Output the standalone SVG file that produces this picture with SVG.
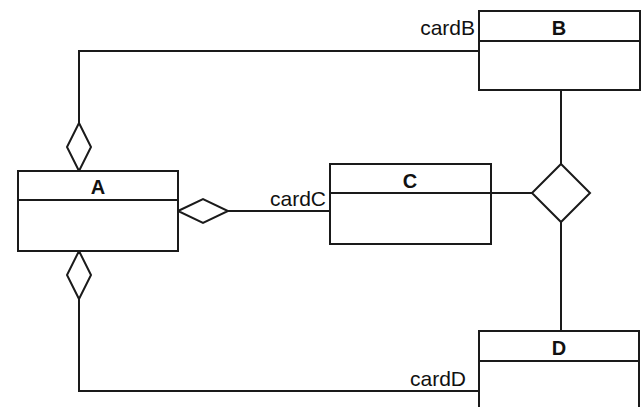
<svg xmlns="http://www.w3.org/2000/svg" width="642" height="407" viewBox="0 0 642 407">
  <style>
    .box { fill: #ffffff; stroke: #1a1a1a; stroke-width: 2; }
    .sep { stroke: #1a1a1a; stroke-width: 2; }
    .edge { fill: none; stroke: #1a1a1a; stroke-width: 2; }
    .dia { fill: #ffffff; stroke: #1a1a1a; stroke-width: 2; stroke-linejoin: miter; }
    .title { font-family: "Liberation Sans", Arial, sans-serif; font-size: 20px; font-weight: bold; text-anchor: middle; fill: #111; }
    .card { font-family: "Liberation Sans", Arial, sans-serif; font-size: 21px; text-anchor: end; fill: #111; }
  </style>
  <rect width="642" height="407" fill="#ffffff"/>

  <g id="connectors">
    <!-- A to B -->
    <polyline class="edge" points="79,123 79,51 479,51"/>
    <!-- A to C -->
    <line class="edge" x1="228" y1="211" x2="330" y2="211"/>
    <!-- A to D -->
    <polyline class="edge" points="79,299 79,391 479,391"/>
    <!-- ternary association: B, C, D -->
    <line class="edge" x1="561" y1="90" x2="561" y2="164"/>
    <line class="edge" x1="491" y1="193" x2="532" y2="193"/>
    <line class="edge" x1="561" y1="222" x2="561" y2="331"/>
    <!-- aggregation diamonds -->
    <polygon class="dia" points="79,123 91,147 79,171 67,147"/>
    <polygon class="dia" points="178,211 203,199 228,211 203,223"/>
    <polygon class="dia" points="79,251 91,275 79,299 67,275"/>
    <polygon class="dia" points="561,164 590,193 561,222 532,193"/>
    <!-- role labels -->
    <text class="card" x="475" y="35">cardB</text>
    <text class="card" x="326" y="206">cardC</text>
    <text class="card" x="466" y="386">cardD</text>
  </g>

  <g id="A">
    <rect class="box" x="18" y="171" width="160" height="80"/>
    <line class="sep" x1="18" y1="200" x2="178" y2="200"/>
    <text class="title" x="98" y="194">A</text>
  </g>

  <g id="B">
    <rect class="box" x="479" y="11" width="161" height="79"/>
    <line class="sep" x1="479" y1="41" x2="640" y2="41"/>
    <text class="title" x="559" y="35">B</text>
  </g>

  <g id="C">
    <rect class="box" x="330" y="164" width="161" height="80"/>
    <line class="sep" x1="330" y1="193" x2="491" y2="193"/>
    <text class="title" x="410" y="188">C</text>
  </g>

  <g id="D">
    <rect class="box" x="479" y="331" width="160" height="90"/>
    <line class="sep" x1="479" y1="361" x2="639" y2="361"/>
    <text class="title" x="559" y="355">D</text>
  </g>
</svg>
